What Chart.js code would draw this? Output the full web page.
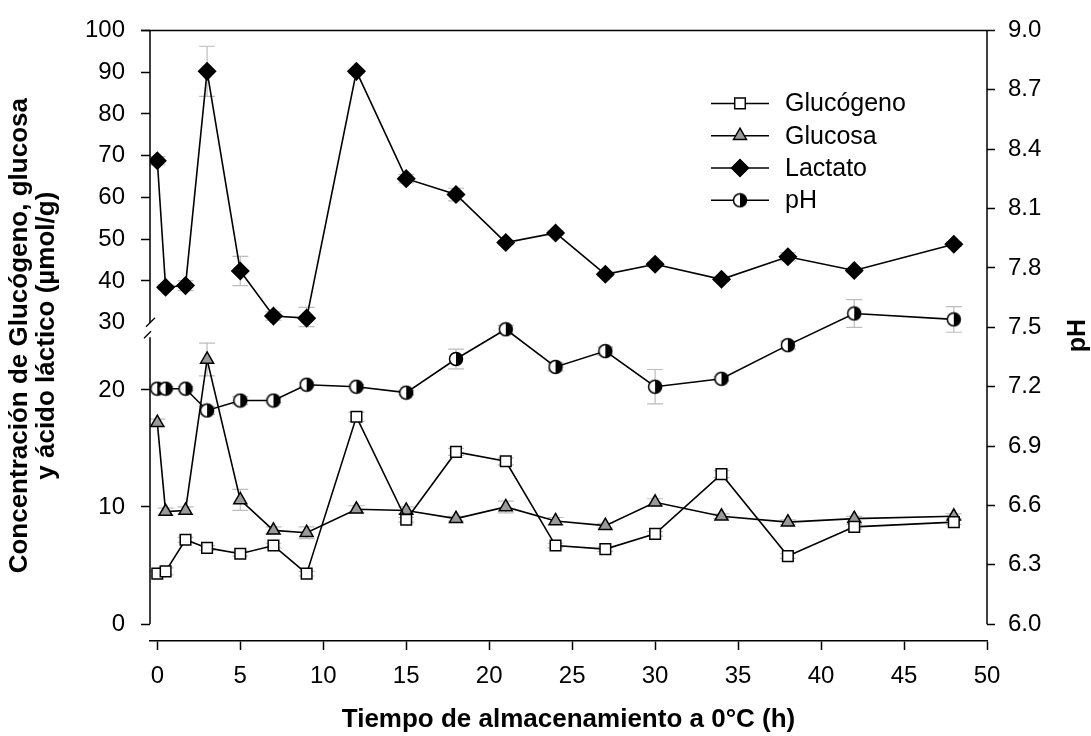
<!DOCTYPE html>
<html>
<head>
<meta charset="utf-8">
<title>Glucógeno, glucosa, lactato y pH</title>
<script src="https://cdn.jsdelivr.net/npm/chart.js@4.4.1/dist/chart.umd.min.js"></script>
<style>
  html, body { margin: 0; padding: 0; background: #fff; }
  #chart-canvas { display: block; }
</style>
</head>
<body>
<canvas id="chart-canvas" width="1091" height="736"></canvas>
<script>
// ### data ###
const HOURS = [0, 0.5, 1.7, 3, 5, 7, 9, 12, 15, 18, 21, 24, 27, 30, 34, 38, 42, 48];

const GLUCOGENO = [4.3, 4.5, 7.2, 6.5, 6.0, 6.7, 4.3, 17.7, 8.9, 14.7, 13.9, 6.7, 6.4, 7.7, 12.8, 5.8, 8.3, 8.7];
const GLUCOGENO_ERR = [0.2, 0.3, 0.2, 0.2, 0.2, 0.2, 0.2, 0.4, 0.2, 0.3, 0.3, 0.2, 0.2, 0.2, 0.3, 0.2, 0.2, 0.2];

const GLUCOSA = [17.2, 9.6, 9.7, 22.6, 10.6, 8.0, 7.8, 9.8, 9.7, 9.0, 10.0, 8.8, 8.4, 10.4, 9.2, 8.7, 9.0, 9.2];
const GLUCOSA_ERR = [0.3, 0.3, 0.3, 1.4, 0.9, 0.3, 0.5, 0.3, 0.3, 0.2, 0.5, 0.3, 0.2, 0.3, 0.2, 0.2, 0.2, 0.2];

const LACTATO = [68.8, 38.5, 38.9, 90.2, 42.4, 31.6, 31.1, 90.2, 64.5, 60.7, 49.2, 51.5, 41.6, 44.0, 40.4, 45.8, 42.5, 48.8];
const LACTATO_ERR = [1, 0.5, 1.2, 6, 3.5, 1, 2.6, 0.5, 1, 1.5, 0.5, 0.5, 0.5, 0.5, 0.5, 1, 0.5, 0.5];

const PH = [7.19, 7.19, 7.19, 7.08, 7.13, 7.13, 7.21, 7.20, 7.17, 7.34, 7.49, 7.30, 7.38, 7.20, 7.24, 7.41, 7.57, 7.54];
const PH_ERR = [0.01, 0.01, 0.01, 0.02, 0.02, 0.01, 0.01, 0.01, 0.01, 0.05, 0.02, 0.02, 0.02, 0.087, 0.01, 0.02, 0.07, 0.065];

const SERIES_LABELS = ["Glucógeno", "Glucosa", "Lactato", "pH"];

const X_TICKS = [0, 5, 10, 15, 20, 25, 30, 35, 40, 45, 50];
const LEFT_TICKS = [0, 10, 20, 30, 40, 50, 60, 70, 80, 90, 100];
const RIGHT_TICKS = [6.0, 6.3, 6.6, 6.9, 7.2, 7.5, 7.8, 8.1, 8.4, 8.7, 9.0];

const X_TITLE = "Tiempo de almacenamiento a 0°C (h)";
const LEFT_TITLE = ["Concentración de Glucógeno, glucosa", "y ácido láctico (µmol/g)"];
const RIGHT_TITLE = "pH";

// ### colors ###
const BLACK = "#000000";
const WHITE = "#ffffff";
const GREY = "#9a9a9a";
const ERR_GREY = "#bdbdbd";

const FONT = "'Liberation Sans', Arial, sans-serif";

// ### broken left axis ###
const AXIS_GAP = 17;        // px between y=0 and the x axis line
const LOWER_TOP = 24.5;     // lower part ends here
const UPPER_BOTTOM = 30;    // upper part starts here
const LEFT_MAX = 100;
const LOWER_SLOPE = 0.01972; // share of frame height per unit, lower part
const UPPER_START = 0.5075;  // share of frame height where 30 sits

function brokenFraction(v) {
  const upperSlope = (1 - UPPER_START) / (LEFT_MAX - UPPER_BOTTOM);
  const lowFrac = LOWER_TOP * LOWER_SLOPE;
  if (v <= LOWER_TOP) return v * LOWER_SLOPE;
  if (v >= UPPER_BOTTOM) return UPPER_START + (v - UPPER_BOTTOM) * upperSlope;
  return lowFrac + ((v - LOWER_TOP) / (UPPER_BOTTOM - LOWER_TOP)) * (UPPER_START - lowFrac);
}

function brokenValue(f) {
  const upperSlope = (1 - UPPER_START) / (LEFT_MAX - UPPER_BOTTOM);
  const lowFrac = LOWER_TOP * LOWER_SLOPE;
  if (f <= lowFrac) return f / LOWER_SLOPE;
  if (f >= UPPER_START) return UPPER_BOTTOM + (f - UPPER_START) / upperSlope;
  return LOWER_TOP + ((f - lowFrac) / (UPPER_START - lowFrac)) * (UPPER_BOTTOM - LOWER_TOP);
}

class BrokenScale extends Chart.LinearScale {
  static id = "broken";
  static defaults = Chart.LinearScale.defaults;

  getPixelForValue(value) {
    const frameBottom = this.bottom - AXIS_GAP;
    const frameHeight = frameBottom - this.top;
    return frameBottom - frameHeight * brokenFraction(value);
  }

  getValueForPixel(pixel) {
    const frameBottom = this.bottom - AXIS_GAP;
    const frameHeight = frameBottom - this.top;
    return brokenValue((frameBottom - pixel) / frameHeight);
  }
}
Chart.register(BrokenScale);

// ### point styles ###
function makeHalfCircle() {
  const c = document.createElement("canvas");
  c.width = 16;
  c.height = 16;
  const g = c.getContext("2d");
  const r = 6.5;
  g.beginPath();
  g.arc(8, 8, r, 0, Math.PI * 2);
  g.fillStyle = WHITE;
  g.fill();
  g.beginPath();
  g.moveTo(8, 8 - r);
  g.arc(8, 8, r, -Math.PI / 2, Math.PI / 2);
  g.closePath();
  g.fillStyle = BLACK;
  g.fill();
  g.beginPath();
  g.arc(8, 8, r, 0, Math.PI * 2);
  g.lineWidth = 1.5;
  g.strokeStyle = BLACK;
  g.stroke();
  return c;
}
const HALF_CIRCLE = makeHalfCircle();

const MARKERS = [
  { pointStyle: "rect", radius: 7.5, fill: WHITE },
  { pointStyle: "triangle", radius: 7.5, fill: GREY },
  { pointStyle: "rectRot", radius: 8.5, fill: BLACK },
  { pointStyle: HALF_CIRCLE, radius: 7.5, fill: WHITE },
];

const ERRORS = [GLUCOGENO_ERR, GLUCOSA_ERR, LACTATO_ERR, PH_ERR];

function toPoints(values) {
  return HOURS.map((h, i) => ({ x: h, y: values[i] }));
}

function makeDataset(index, values, axis) {
  const m = MARKERS[index];
  return {
    label: SERIES_LABELS[index],
    data: toPoints(values),
    yAxisID: axis,
    borderColor: BLACK,
    borderWidth: 1.6,
    tension: 0,
    fill: false,
    pointStyle: m.pointStyle,
    pointRadius: m.radius,
    pointHoverRadius: m.radius,
    pointBackgroundColor: m.fill,
    pointBorderColor: BLACK,
    pointBorderWidth: 1.5,
  };
}

// ### plugins ###
const errorBarPlugin = {
  id: "errorBars",
  beforeDatasetsDraw(chart) {
    const ctx = chart.ctx;
    ctx.save();
    ctx.strokeStyle = ERR_GREY;
    ctx.lineWidth = 1.2;
    chart.data.datasets.forEach((ds, i) => {
      const meta = chart.getDatasetMeta(i);
      const xScale = chart.scales[meta.xAxisID];
      const yScale = chart.scales[meta.yAxisID];
      ERRORS[i].forEach((err, j) => {
        const pt = ds.data[j];
        const x = xScale.getPixelForValue(pt.x);
        const yTop = yScale.getPixelForValue(pt.y + err);
        const yBot = yScale.getPixelForValue(pt.y - err);
        ctx.beginPath();
        ctx.moveTo(x, yTop);
        ctx.lineTo(x, yBot);
        ctx.moveTo(x - 8, yTop);
        ctx.lineTo(x + 8, yTop);
        ctx.moveTo(x - 8, yBot);
        ctx.lineTo(x + 8, yBot);
        ctx.stroke();
      });
    });
    ctx.restore();
  },
};

const framePlugin = {
  id: "frame",
  afterDraw(chart) {
    const ctx = chart.ctx;
    const area = chart.chartArea;
    const yLeft = chart.scales.y;
    const yRight = chart.scales.y2;
    const zeroY = yLeft.getPixelForValue(0);
    const breakLow = yLeft.getPixelForValue(LOWER_TOP);
    const breakHigh = yLeft.getPixelForValue(UPPER_BOTTOM);

    ctx.save();
    ctx.strokeStyle = BLACK;
    ctx.lineWidth = 1.5;
    ctx.beginPath();
    // top line (with the 100 tick)
    ctx.moveTo(area.left - 9, area.top);
    ctx.lineTo(area.right, area.top);
    // right axis
    ctx.moveTo(area.right, area.top);
    ctx.lineTo(area.right, yRight.getPixelForValue(RIGHT_TICKS[0]));
    // left axis in two parts
    ctx.moveTo(area.left, zeroY);
    ctx.lineTo(area.left, breakLow);
    ctx.moveTo(area.left, breakHigh);
    ctx.lineTo(area.left, area.top);
    ctx.stroke();

    // break marks
    ctx.lineWidth = 1.3;
    ctx.beginPath();
    ctx.moveTo(area.left - 4, breakHigh + 4);
    ctx.lineTo(area.left + 5, breakHigh - 5);
    ctx.moveTo(area.left - 6, breakLow + 1);
    ctx.lineTo(area.left + 1, breakLow - 6);
    ctx.stroke();

    // right axis title, reading upwards
    ctx.fillStyle = BLACK;
    ctx.font = "bold 25px " + FONT;
    ctx.textAlign = "center";
    ctx.textBaseline = "middle";
    ctx.translate(1078, (area.top + area.bottom) / 2);
    ctx.rotate(-Math.PI / 2);
    ctx.fillText(RIGHT_TITLE, 0, 0);
    ctx.restore();

    // legend inside the plot
    ctx.save();
    const lineStart = area.right - 276;
    const lineEnd = area.right - 218;
    const markerX = area.right - 247;
    const textX = area.right - 202;
    ctx.font = "25px " + FONT;
    ctx.textAlign = "left";
    ctx.textBaseline = "middle";
    SERIES_LABELS.forEach((label, i) => {
      const y = area.top + 73 + i * 32.3;
      const m = MARKERS[i];
      ctx.strokeStyle = BLACK;
      ctx.lineWidth = 1.5;
      ctx.beginPath();
      ctx.moveTo(lineStart, y);
      ctx.lineTo(lineEnd, y);
      ctx.stroke();
      ctx.fillStyle = m.fill;
      Chart.helpers.drawPoint(ctx, {
        pointStyle: m.pointStyle,
        radius: m.radius,
        rotation: 0,
        borderWidth: 1.5,
      }, markerX, y);
      ctx.fillStyle = BLACK;
      ctx.fillText(label, textX, y + 1);
    });
    ctx.restore();
  },
};

// ### chart ###
Chart.defaults.font.family = FONT;
Chart.defaults.color = BLACK;

function renderChart() {
  const chartCanvas = document.getElementById("chart-canvas");
  new Chart(chartCanvas, {
    type: "line",
    data: {
      datasets: [
        makeDataset(0, GLUCOGENO, "y"),
        makeDataset(1, GLUCOSA, "y"),
        makeDataset(2, LACTATO, "y"),
        makeDataset(3, PH, "y2"),
      ],
    },
    options: {
      responsive: false,
      animation: false,
      devicePixelRatio: 1,
      layout: { padding: { top: 22, left: 0, right: 0, bottom: 0 } },
      plugins: {
        legend: { display: false },
        tooltip: { enabled: false },
      },
      scales: {
        x: {
          type: "linear",
          min: -0.44,
          max: 50,
          afterBuildTicks: (scale) => {
            scale.ticks = X_TICKS.map((v) => ({ value: v }));
          },
          afterFit: (scale) => {
            scale.height = 95;
          },
          border: { display: true, color: BLACK, width: 1.5 },
          grid: {
            drawOnChartArea: false,
            drawTicks: true,
            tickLength: 9,
            tickWidth: 1.5,
            tickColor: BLACK,
          },
          ticks: {
            padding: 12,
            font: { size: 24 },
            color: BLACK,
            maxRotation: 0,
          },
          title: {
            display: true,
            text: X_TITLE,
            font: { size: 26, weight: "bold", lineHeight: 1.1 },
            padding: { top: 0, bottom: 2 },
            color: BLACK,
          },
        },
        y: {
          type: "broken",
          position: "left",
          min: 0,
          max: LEFT_MAX,
          afterBuildTicks: (scale) => {
            scale.ticks = LEFT_TICKS.map((v) => ({ value: v }));
          },
          afterFit: (scale) => {
            scale.width = 150;
          },
          border: { display: false },
          grid: {
            drawOnChartArea: false,
            drawTicks: true,
            tickLength: 9,
            tickWidth: 1.5,
            tickColor: (c) => (c.tick && c.tick.value === UPPER_BOTTOM ? "rgba(0,0,0,0)" : BLACK),
          },
          ticks: {
            padding: 16,
            font: { size: 24 },
            color: BLACK,
          },
          title: {
            display: true,
            text: LEFT_TITLE,
            font: { size: 26, weight: "bold", lineHeight: 1.05 },
            padding: { top: 6, bottom: 0 },
            color: BLACK,
          },
        },
        y2: {
          type: "linear",
          position: "right",
          min: 6.0 - (AXIS_GAP * 3.0) / 602,
          max: 9.0,
          afterBuildTicks: (scale) => {
            scale.ticks = RIGHT_TICKS.map((v) => ({ value: v }));
          },
          afterFit: (scale) => {
            scale.width = 104;
          },
          border: { display: false },
          grid: {
            drawOnChartArea: false,
            drawTicks: true,
            tickLength: 8,
            tickWidth: 1.5,
            tickColor: BLACK,
          },
          ticks: {
            padding: 13,
            font: { size: 24 },
            color: BLACK,
            callback: (v) => Number(v).toFixed(1),
          },
        },
      },
    },
    plugins: [errorBarPlugin, framePlugin],
  });
}

renderChart();
</script>
</body>
</html>
